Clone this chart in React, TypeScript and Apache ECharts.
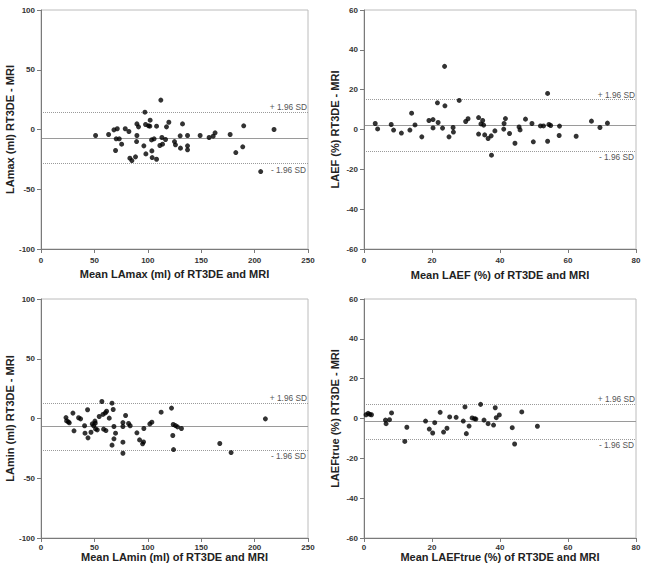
import React, { useEffect, useRef } from "react";
import * as echarts from "echarts";

// Bland–Altman data: [mean of RT3DE and MRI, RT3DE − MRI]
const lamaxPoints: number[][] = [
  [51.1, -5.0], [63.3, -4.2], [68.3, -0.3], [71.4, 0.6], [69.8, -17.6], [70.4, -7.8],
  [73.3, -7.8], [75.5, -12.3], [78.9, 0.6], [82.3, -1.7], [83.2, -24.0], [85.1, -26.0],
  [88.5, -22.9], [89.5, -10.1], [89.8, -5.0], [89.8, 4.7], [91.3, 2.2], [96.3, -13.7],
  [97.3, 14.5], [97.9, 4.2], [98.2, -20.4], [100.7, 3.1], [102.2, 7.8], [101.9, 2.8],
  [103.5, -8.7], [103.8, -17.9], [104.1, -23.5], [105.9, -7.8], [108.2, 2.8], [108.2, -24.9],
  [111.3, -13.4], [112.2, 24.6], [113.2, -6.7], [113.8, -12.3], [116.6, -8.4], [117.5, 2.2],
  [119.7, 6.1], [125.0, -10.1], [125.9, -12.8], [130.3, -5.3], [130.6, -15.6], [132.5, 4.7],
  [137.2, -5.0], [137.2, -13.7], [137.2, -17.0], [149.0, -5.0], [157.4, -6.7], [161.2, -5.6],
  [163.0, -2.8], [177.1, -4.2], [189.8, 3.1], [182.4, -19.3], [188.9, -14.5], [205.7, -35.2],
  [218.2, 0.0],
];
const laefPoints: number[][] = [
  [3.3, 3.0], [4.0, 0.3], [8.0, 2.5], [8.7, -0.3], [11.0, -1.8], [13.5, -0.3], [14.0, 8.2],
  [15.0, 2.3], [17.0, -3.7], [19.1, 4.5], [20.3, 5.0], [20.3, 0.8], [21.6, 13.4], [21.8, 3.5],
  [23.1, 0.7], [23.7, 31.7], [23.8, 11.9], [25.0, -3.7], [26.2, 1.0], [26.3, -1.3], [28.0, 14.6],
  [29.9, 4.0], [30.6, 5.4], [33.7, 6.0], [33.7, -2.3], [34.4, 2.8], [34.9, 4.5], [35.2, 2.2],
  [35.5, -2.7], [36.5, -4.5], [37.4, -3.2], [37.5, -12.9], [38.5, -0.7], [41.1, 0.2], [41.2, 3.0],
  [41.6, 5.5], [42.8, -2.0], [44.4, -6.9], [45.6, 1.3], [45.9, -0.2], [47.5, 5.2], [49.4, 3.0],
  [49.8, -6.2], [51.9, 1.8], [52.8, 1.8], [54.0, 18.1], [54.0, -5.9], [54.4, 2.5], [54.9, 2.0],
  [57.5, 1.7], [57.4, -3.0], [62.4, -3.4], [66.9, 4.2], [69.4, 1.0], [71.6, 3.2],
];
const laminPoints: number[][] = [
  [23.4, 0.8], [24.0, -2.0], [25.6, -2.8], [26.5, -3.6], [29.9, 4.5], [30.9, -10.3], [35.2, 0.6],
  [37.1, -0.3], [40.8, -6.1], [41.2, -12.3], [43.6, 7.3], [44.0, -16.2], [46.8, -11.5],
  [48.0, -4.5], [49.3, -6.1], [50.5, -2.2], [51.1, -8.7], [50.8, -3.9], [52.7, -9.5], [54.5, 1.7],
  [57.0, 14.2], [58.0, 3.4], [58.6, -8.9], [60.2, 4.7], [60.8, -10.1], [61.4, 6.1], [63.9, 0.3],
  [66.5, 12.8], [66.5, -22.3], [67.6, 7.5], [68.3, -6.7], [68.3, -17.0], [69.8, -12.3],
  [76.7, -6.7], [76.7, -3.4], [76.7, -19.8], [76.7, -29.1], [79.2, 2.5], [82.0, -4.2],
  [83.5, -6.1], [89.8, -12.0], [92.3, -17.9], [95.1, -21.2], [96.0, -19.6], [96.3, -8.4],
  [101.9, -4.5], [103.8, -3.1], [112.5, 5.3], [122.2, 8.7], [123.4, -14.2], [123.8, -5.0],
  [124.1, -26.0], [125.9, -5.9], [127.8, -7.0], [131.5, -8.4], [167.4, -20.9], [178.0, -28.5],
  [210.1, -0.3],
];
const laefTruePoints: number[][] = [
  [0.6, 1.9], [1.2, 2.6], [1.7, 2.1], [2.2, 1.9], [6.3, -0.8], [6.5, -2.6], [7.5, -0.6],
  [8.1, 2.8], [12.0, -11.5], [12.6, -4.4], [18.1, -1.3], [19.2, -5.3], [20.2, -7.3], [20.8, -2.1],
  [22.4, 3.1], [23.4, -6.8], [24.4, -4.9], [25.2, 0.8], [27.1, 0.6], [29.2, -1.3], [29.7, 5.8],
  [30.1, -7.6], [30.9, -3.8], [31.8, 0.3], [32.5, -0.1], [32.9, -0.3], [34.3, 7.1], [35.3, -0.8],
  [36.5, -2.6], [38.1, -3.3], [38.6, 5.4], [38.9, 0.4], [39.8, 1.8], [43.6, -4.6], [44.3, -12.8],
  [46.4, 3.3], [51.0, -3.9],
];

// Limits of agreement: [lower, bias, upper]
const lamaxLimits = [-28.5, -7.0, 14.5];
const laefLimits = [-10.9, 2.2, 15.0];
const laminLimits = [-26.3, -6.6, 13.1];
const laefTrueLimits = [-10.3, -1.6, 7.3];

const xNames = [
  "Mean LAmax (ml) of RT3DE and MRI",
  "Mean LAEF (%) of RT3DE and MRI",
  "Mean LAmin (ml) of RT3DE and MRI",
  "Mean LAEFtrue (%) of RT3DE and MRI",
];
const yNames = [
  "LAmax (ml) RT3DE - MRI",
  "LAEF (%) RT3DE - MRI",
  "LAmin (ml) RT3DE - MRI",
  "LAEFtrue (%) RT3DE - MRI",
];
const upperLabel = "+ 1.96 SD";
const lowerLabel = "- 1.96 SD";

const FONT = "Arial, 'Liberation Sans', Helvetica, sans-serif";
const AXIS_COLOR = "#7a7a7a";
const FRAME_COLOR = "#bcbcbc";

type Panel = {
  points: number[][];
  limits: number[];
  xMax: number;
  xInterval: number;
  yMin: number;
  yMax: number;
  yInterval: number;
  grid: { left: number; top: number; width: number; height: number };
  xNameGap: number;
  xLabelMargin: number;
};

const panels: Panel[] = [
  {
    points: lamaxPoints, limits: lamaxLimits, xMax: 250, xInterval: 50,
    yMin: -100, yMax: 100, yInterval: 50,
    grid: { left: 41, top: 10, width: 267, height: 239 }, xNameGap: 19, xLabelMargin: 7,
  },
  {
    points: laefPoints, limits: laefLimits, xMax: 80, xInterval: 20,
    yMin: -60, yMax: 60, yInterval: 20,
    grid: { left: 364, top: 10, width: 272, height: 239 }, xNameGap: 20, xLabelMargin: 7,
  },
  {
    points: laminPoints, limits: laminLimits, xMax: 250, xInterval: 50,
    yMin: -100, yMax: 100, yInterval: 50,
    grid: { left: 41, top: 299, width: 267, height: 239 }, xNameGap: 13, xLabelMargin: 5,
  },
  {
    points: laefTruePoints, limits: laefTrueLimits, xMax: 80, xInterval: 20,
    yMin: -60, yMax: 60, yInterval: 20,
    grid: { left: 364, top: 299, width: 272, height: 239 }, xNameGap: 13, xLabelMargin: 5,
  },
];

function buildOption() {
  const tickLabel = { fontSize: 8, fontWeight: "bold", color: "#333", fontFamily: FONT };
  const nameStyle = { fontSize: 11, fontWeight: "bold", color: "#222", fontFamily: FONT };
  const sdLabel = { color: "#555", fontSize: 8.3, fontFamily: FONT };

  return {
    animation: false,
    backgroundColor: "#ffffff",
    // the grid border gives the light top and right frame edges
    grid: panels.map((p) => ({
      ...p.grid,
      containLabel: false,
      show: true,
      borderColor: FRAME_COLOR,
      borderWidth: 1,
      backgroundColor: "transparent",
    })),
    xAxis: panels.map((p, i) => ({
      type: "value",
      gridIndex: i,
      min: 0,
      max: p.xMax,
      interval: p.xInterval,
      name: xNames[i],
      nameLocation: "middle",
      nameGap: p.xNameGap,
      nameTextStyle: nameStyle,
      axisLine: { show: true, onZero: false, lineStyle: { color: AXIS_COLOR, width: 1 } },
      axisTick: { show: true, length: 4, lineStyle: { color: AXIS_COLOR } },
      axisLabel: { ...tickLabel, margin: p.xLabelMargin },
      splitLine: { show: false },
      z: 4,
    })),
    yAxis: panels.map((p, i) => ({
      type: "value",
      gridIndex: i,
      min: p.yMin,
      max: p.yMax,
      interval: p.yInterval,
      name: yNames[i],
      nameLocation: "middle",
      nameGap: 24,
      nameTextStyle: nameStyle,
      axisLine: { show: true, onZero: false, lineStyle: { color: AXIS_COLOR, width: 1 } },
      axisTick: { show: true, length: 4, lineStyle: { color: AXIS_COLOR } },
      axisLabel: { ...tickLabel, margin: 6 },
      splitLine: { show: false },
      z: 4,
    })),
    series: panels.map((p, i) => ({
      type: "scatter",
      xAxisIndex: i,
      yAxisIndex: i,
      data: p.points,
      symbol: "circle",
      symbolSize: 5,
      itemStyle: { color: "#000000" },
      z: 5,
      markLine: {
        silent: true,
        symbol: ["none", "none"],
        animation: false,
        z: 3,
        data: [
          {
            yAxis: p.limits[1],
            lineStyle: { type: "solid", color: "#9a9a9a", width: 1.1 },
            label: { show: false },
          },
          {
            yAxis: p.limits[2],
            lineStyle: { type: "dotted", color: "#9a9a9a", width: 1 },
            label: { show: true, position: "insideEndTop", formatter: upperLabel, distance: 1, ...sdLabel },
          },
          {
            yAxis: p.limits[0],
            lineStyle: { type: "dotted", color: "#9a9a9a", width: 1 },
            label: { show: true, position: "insideEndBottom", formatter: lowerLabel, distance: 2, ...sdLabel },
          },
        ],
      },
    })),
  };
}

export default function App() {
  const ref = useRef<HTMLDivElement>(null);

  useEffect(() => {
    if (!ref.current) return;
    const chart = echarts.init(ref.current, undefined, { renderer: "svg" });
    chart.setOption(buildOption() as any);
    return () => chart.dispose();
  }, []);

  return (
    <div
      ref={ref}
      style={{ position: "absolute", left: 0, top: 0, width: 648, height: 573, background: "#fff" }}
    />
  );
}
